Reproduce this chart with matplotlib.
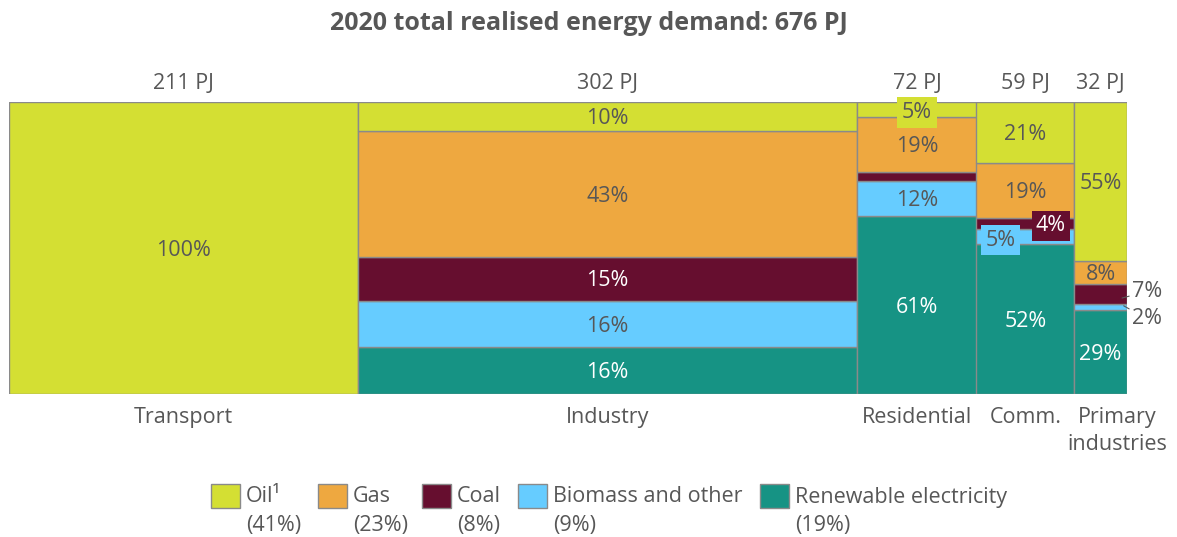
import matplotlib
matplotlib.use("Agg")
import matplotlib.pyplot as plt
from matplotlib.patches import Rectangle

plt.rcParams['font.family'] = ['Open Sans', 'DejaVu Sans']

title = "2020 total realised energy demand: 676 PJ"
sectors = ["Transport", "Industry", "Residential", "Comm.", "Primary\nindustries"]
totals_pj = [211, 302, 72, 59, 32]
fuels = ["Oil¹", "Gas", "Coal", "Biomass and other", "Renewable electricity"]
fuel_shares = ["(41%)", "(23%)", "(8%)", "(9%)", "(19%)"]
# percentages per sector, bottom -> top order: Renewable, Biomass, Coal, Gas, Oil
renewable = [0, 16, 61, 52, 29]
biomass = [0, 16, 12, 5, 2]
coal = [0, 15, 3, 4, 7]
gas = [0, 43, 19, 19, 8]
oil = [100, 10, 5, 21, 55]

colors = {"oil": "#d4df33", "gas": "#eea840", "coal": "#660e2f",
          "biomass": "#66ccff", "renewable": "#169384"}
edge = "#8a8a8a"
dark = "#575757"

W, H = 1177, 537
fig = plt.figure(figsize=(W / 100, H / 100), dpi=100)
L, R, T, B = 9, 1127, 102, 394
ax = fig.add_axes([L / W, 1 - B / H, (R - L) / W, (B - T) / H])
total = sum(totals_pj)
ax.set_xlim(0, total)
ax.set_ylim(0, 100)
ax.axis("off")

stack = [("renewable", renewable), ("biomass", biomass), ("coal", coal),
         ("gas", gas), ("oil", oil)]

x0 = 0
centers = []
for i, w in enumerate(totals_pj):
    colsum = sum(s[1][i] for s in stack)
    y = 0
    segs = {}
    for name, vals in stack:
        h = vals[i] / colsum * 100
        if h > 0:
            ax.add_patch(Rectangle((x0, y), w, h, facecolor=colors[name],
                                   edgecolor=edge, linewidth=1.0))
        segs[name] = (y, h)
        y += h
    centers.append((x0 + w / 2, segs))
    x0 += w

fs = 15.5
dy = -0.8  # small downward nudge for visual centring
for i, (cx, segs) in enumerate(centers):
    for name, vals in stack:
        v = vals[i]
        if v == 0:
            continue
        y, h = segs[name]
        cy = y + h / 2 + dy
        col = "white" if name in ("coal", "renewable") else dark
        if i == 2 and name == "coal":
            continue
        if i == 2 and name == "oil":
            ax.text(cx, cy - 0.3, f"{v}%", ha="center", va="center", color=dark, fontsize=fs,
                    bbox=dict(boxstyle="square,pad=0.22", fc=colors["oil"], ec="none"))
            continue
        if i == 3 and name == "coal":
            ax.text(cx + 15.5, cy, f"{v}%", ha="center", va="center", color="white", fontsize=fs,
                    bbox=dict(boxstyle="square,pad=0.2", fc=colors["coal"], ec="none"))
            continue
        if i == 3 and name == "biomass":
            ax.text(cx - 15, cy - 0.5, f"{v}%", ha="center", va="center", color=dark, fontsize=fs,
                    bbox=dict(boxstyle="square,pad=0.2", fc=colors["biomass"], ec="none"))
            continue
        if i == 4 and name in ("coal", "biomass"):
            xr = total
            if name == "coal":
                ax.annotate(f"{v}%", xy=(xr - 3, cy - 0.5), xytext=(xr + 3, cy + 1.8),
                            ha="left", va="center", color=dark, fontsize=fs,
                            arrowprops=dict(arrowstyle="-", color=dark, lw=0.8,
                                            shrinkA=0, shrinkB=0),
                            annotation_clip=False)
            else:
                ax.annotate(f"{v}%", xy=(xr - 2, cy + 1.3), xytext=(xr + 3, cy - 3.2),
                            ha="left", va="center", color=dark, fontsize=fs,
                            arrowprops=dict(arrowstyle="-", color=dark, lw=0.8,
                                            shrinkA=0, shrinkB=0),
                            annotation_clip=False)
            continue
        ax.text(cx, cy, f"{v}%", ha="center", va="center", color=col, fontsize=fs)

# PJ labels above and sector labels below
xoff = [0, 0, 0, 0, 10]
for i, (cx, segs) in enumerate(centers):
    ax.text(cx, 100 + 6.3, f"{totals_pj[i]} PJ", ha="center", va="center", color=dark, fontsize=fs)
    ax.text(cx + xoff[i], -4.5, sectors[i], ha="center", va="top", color=dark, fontsize=fs,
            linespacing=1.35)

fig.text(0.5, 1 - 23 / H, title, ha="center", va="center", fontsize=18,
         fontweight="bold", color=dark)

# legend
sq_x = [211, 318, 422, 518, 760]
for k, name in enumerate(["oil", "gas", "coal", "biomass", "renewable"]):
    fig.add_artist(Rectangle((sq_x[k] / W, 1 - 508 / H), 29 / W, 24 / H,
                             transform=fig.transFigure, facecolor=colors[name],
                             edgecolor=edge, linewidth=1.0))
    tx = (sq_x[k] + 35) / W
    fig.text(tx, 1 - 497 / H, fuels[k], ha="left", va="center", color=dark, fontsize=fs)
    fig.text(tx, 1 - 525 / H, fuel_shares[k], ha="left", va="center", color=dark, fontsize=fs)

fig.savefig("out.png", dpi=100, facecolor="white")
